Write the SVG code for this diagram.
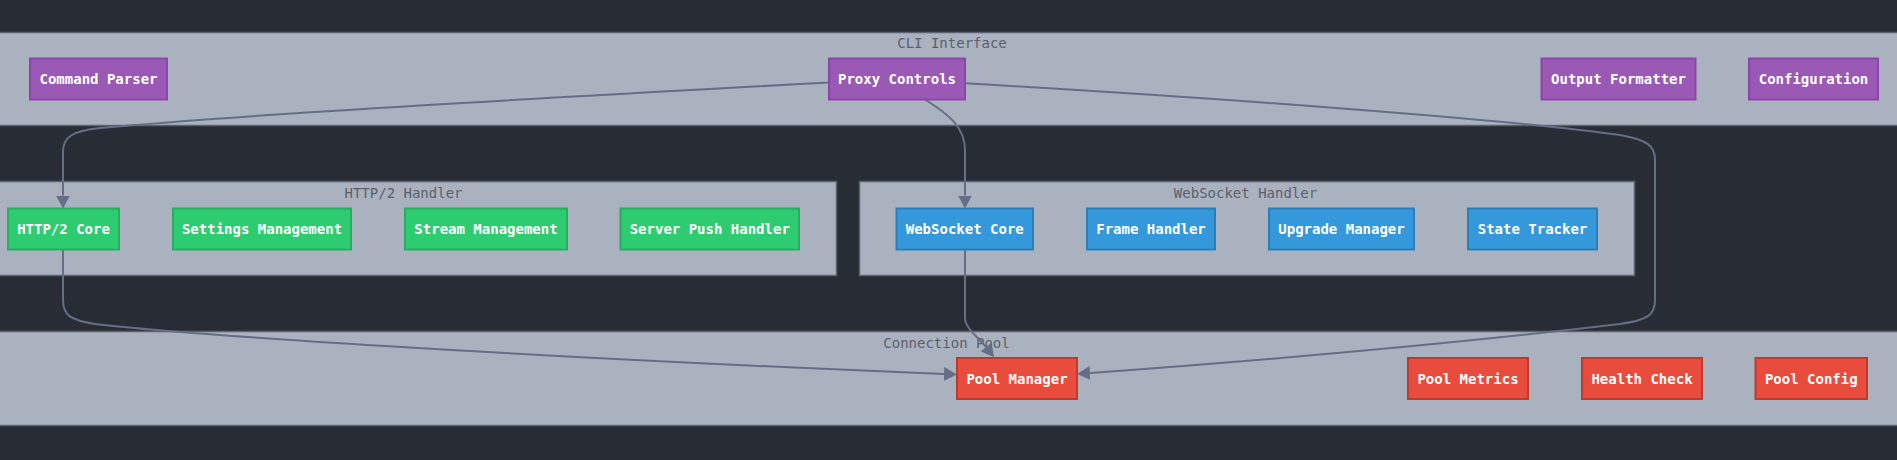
<svg xmlns="http://www.w3.org/2000/svg" width="1897" height="460" viewBox="0 0 1897 460">
<defs>
<style>
.bg{fill:#282c34}
.cluster{fill:#abb2bf;stroke:#5c6370;stroke-width:1.5}
.clabel{font-family:"DejaVu Sans Mono",monospace;font-size:14px;fill:#5a606b;text-anchor:middle}
.node rect{stroke-width:2}
.node text{font-family:"DejaVu Sans Mono",monospace;font-size:14px;font-weight:bold;fill:#ffffff;text-anchor:middle}
.cli rect{fill:#9b59b6;stroke:#8e44ad}
.http rect{fill:#2ecc71;stroke:#27ae60}
.ws rect{fill:#3498db;stroke:#2980b9}
.pool rect{fill:#e74c3c;stroke:#c0392b}
.edge{fill:none;stroke:#646e85;stroke-width:2}
</style>
<marker id="arrow" markerUnits="userSpaceOnUse" markerWidth="13" markerHeight="14" viewBox="0 0 13 14" refX="0" refY="7" orient="auto">
<path d="M0,0 L13,7 L0,14 z" fill="#646e85"/>
</marker>
</defs>
<rect class="bg" x="0" y="0" width="1897" height="460"/>

<g id="clusters">
<g id="cluster-cli">
<rect class="cluster" x="-10" y="32.5" width="1917" height="93"/>
<text class="clabel" x="952" y="48">CLI Interface</text>
</g>
<g id="cluster-http2">
<rect class="cluster" x="-10" y="181.5" width="846.5" height="94"/>
<text class="clabel" x="403.5" y="198">HTTP/2 Handler</text>
</g>
<g id="cluster-ws">
<rect class="cluster" x="859.5" y="181.5" width="775" height="94"/>
<text class="clabel" x="1245.5" y="198">WebSocket Handler</text>
</g>
<g id="cluster-pool">
<rect class="cluster" x="-10" y="331.5" width="1917" height="94"/>
<text class="clabel" x="946.5" y="348">Connection Pool</text>
</g>
</g>

<g id="connectors">
<path class="edge" d="M829,82.5 C560,97 250,114 100,128 C72,131 63,137 63,152 L63,195.5" marker-end="url(#arrow)"/>
<path class="edge" d="M925,99.5 C950,115 965,128 965,150 L965,195.5" marker-end="url(#arrow)"/>
<path class="edge" d="M965,83.3 C1200,97 1500,118 1620,135 C1648,140 1655,146 1655,160 L1655,300 C1655,315 1648,320 1620,324 C1400,350 1200,365 1090,373" marker-end="url(#arrow)"/>
<path class="edge" d="M63,249 L63,300 C63,315 70,320 95,324 C180,334 500,356 944,374" marker-end="url(#arrow)"/>
<path class="edge" d="M965,249 L965,318 C965,328 978,337 986,347" marker-end="url(#arrow)"/>
</g>

<g id="node-command-parser" class="node cli"><rect x="30" y="58.5" width="137" height="41"/><text x="98.5" y="84">Command Parser</text></g>
<g id="node-proxy-controls" class="node cli"><rect x="829" y="58.5" width="136" height="41"/><text x="897" y="84">Proxy Controls</text></g>
<g id="node-output-formatter" class="node cli"><rect x="1541.5" y="58.5" width="154" height="41"/><text x="1618.5" y="84">Output Formatter</text></g>
<g id="node-configuration" class="node cli"><rect x="1749" y="58.5" width="129" height="41"/><text x="1813.5" y="84">Configuration</text></g>

<g id="node-http2-core" class="node http"><rect x="8" y="208.5" width="111" height="41"/><text x="63.5" y="234">HTTP/2 Core</text></g>
<g id="node-settings-management" class="node http"><rect x="173" y="208.5" width="178" height="41"/><text x="262" y="234">Settings Management</text></g>
<g id="node-stream-management" class="node http"><rect x="405" y="208.5" width="162" height="41"/><text x="486" y="234">Stream Management</text></g>
<g id="node-server-push-handler" class="node http"><rect x="620.5" y="208.5" width="178.5" height="41"/><text x="709.75" y="234">Server Push Handler</text></g>

<g id="node-websocket-core" class="node ws"><rect x="896.5" y="208.5" width="136.5" height="41"/><text x="964.75" y="234">WebSocket Core</text></g>
<g id="node-frame-handler" class="node ws"><rect x="1087" y="208.5" width="128" height="41"/><text x="1151" y="234">Frame Handler</text></g>
<g id="node-upgrade-manager" class="node ws"><rect x="1269" y="208.5" width="145" height="41"/><text x="1341.5" y="234">Upgrade Manager</text></g>
<g id="node-state-tracker" class="node ws"><rect x="1468" y="208.5" width="129" height="41"/><text x="1532.5" y="234">State Tracker</text></g>

<g id="node-pool-manager" class="node pool"><rect x="957" y="358" width="120" height="41"/><text x="1017" y="383.5">Pool Manager</text></g>
<g id="node-pool-metrics" class="node pool"><rect x="1408" y="358" width="120" height="41"/><text x="1468" y="383.5">Pool Metrics</text></g>
<g id="node-health-check" class="node pool"><rect x="1582" y="358" width="120" height="41"/><text x="1642" y="383.5">Health Check</text></g>
<g id="node-pool-config" class="node pool"><rect x="1755.5" y="358" width="111.5" height="41"/><text x="1811.25" y="383.5">Pool Config</text></g>
</svg>
